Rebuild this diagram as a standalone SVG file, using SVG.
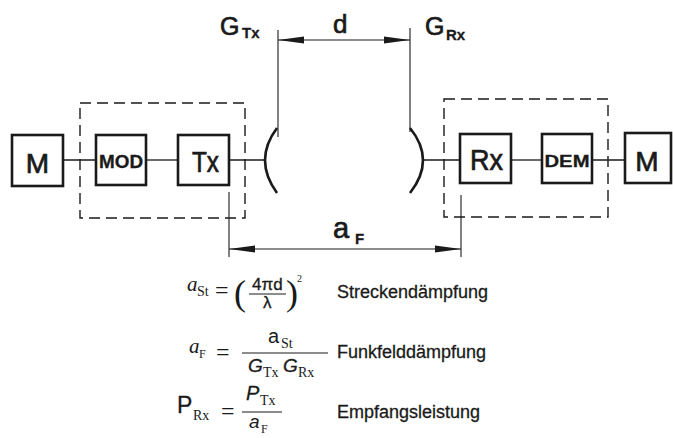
<svg xmlns="http://www.w3.org/2000/svg" width="673" height="438" viewBox="0 0 673 438">
<style>
.box{fill:none;stroke:#1a1a1a;stroke-width:2.6}
.dash{fill:none;stroke:#1a1a1a;stroke-width:1.4;stroke-dasharray:11 6}
.ln{fill:none;stroke:#1a1a1a;stroke-width:1.3}
.dish{fill:none;stroke:#1a1a1a;stroke-width:2.6}
.dim{fill:none;stroke:#1a1a1a;stroke-width:1.1}
.s{font-family:"Liberation Sans",Arial,sans-serif;fill:#1a1a1a}
.b{font-weight:bold}
.w{stroke:#1a1a1a;stroke-width:0.7}
.w2{stroke:#1a1a1a;stroke-width:0.3}
.m{font-family:"Liberation Serif","Times New Roman",serif;fill:#1a1a1a}
.i{font-style:italic}
</style>
<defs>
<marker id="ah" viewBox="0 0 26 8" refX="26" refY="4" markerWidth="26" markerHeight="8" markerUnits="userSpaceOnUse" orient="auto-start-reverse">
<path d="M0,0.6 L26,4 L0,7.4 Z" fill="#1a1a1a"/>
</marker>
</defs>
<rect width="673" height="438" fill="#ffffff"/>

<g id="connectors">
<line class="ln" x1="63" y1="160" x2="96" y2="160"/>
<line class="ln" x1="146" y1="160" x2="178" y2="160"/>
<line class="ln" x1="229" y1="160" x2="265" y2="160"/>
<line class="ln" x1="423" y1="160" x2="460" y2="160"/>
<line class="ln" x1="511" y1="160" x2="542" y2="160"/>
<line class="ln" x1="592" y1="160" x2="625" y2="160"/>
<line class="dim" x1="278" y1="30" x2="278" y2="137"/>
<line class="dim" x1="410" y1="28" x2="410" y2="132"/>
<line class="dim" x1="229" y1="192" x2="229" y2="257"/>
<line class="dim" x1="461" y1="195" x2="461" y2="257"/>
<line class="dim" x1="278" y1="40" x2="410" y2="40" marker-start="url(#ah)" marker-end="url(#ah)"/>
<line class="dim" x1="229" y1="249" x2="461" y2="249" marker-start="url(#ah)" marker-end="url(#ah)"/>
</g>

<g id="tx-unit"><rect class="dash" x="80" y="103" width="165" height="115"/></g>
<g id="rx-unit"><rect class="dash" x="444" y="99" width="164" height="118"/></g>

<g id="m-left"><rect class="box" x="12" y="135" width="51" height="51"/><text class="s w" x="37.5" y="173" font-size="28" text-anchor="middle">M</text></g>
<g id="mod"><rect class="box" x="96" y="135" width="50" height="50"/><text class="s b w2" x="121" y="168" font-size="18" text-anchor="middle" textLength="44" lengthAdjust="spacingAndGlyphs">MOD</text></g>
<g id="tx"><rect class="box" x="178" y="135" width="51" height="50"/><text class="s w" x="192" y="172" font-size="29" textLength="27" lengthAdjust="spacingAndGlyphs">Tx</text></g>
<g id="ant-tx"><path class="dish" d="M277,128 Q253,160 277,193"/></g>
<g id="ant-rx"><path class="dish" d="M410,128 Q436,160 410,193"/></g>
<g id="rx"><rect class="box" x="460" y="134" width="51" height="49"/><text class="s w" x="470" y="170" font-size="29" textLength="33" lengthAdjust="spacingAndGlyphs">Rx</text></g>
<g id="dem"><rect class="box" x="542" y="134" width="50" height="49"/><text class="s b w2" x="567" y="167" font-size="17" text-anchor="middle" textLength="45" lengthAdjust="spacingAndGlyphs">DEM</text></g>
<g id="m-right"><rect class="box" x="625" y="133" width="46" height="50"/><text class="s w" x="647" y="171" font-size="28" text-anchor="middle">M</text></g>

<g id="labels">
<text class="s w" x="220" y="35" font-size="25">G</text>
<text class="s b w2" x="242" y="38" font-size="15">Tx</text>
<text class="s w" x="333" y="33" font-size="26">d</text>
<text class="s w" x="425" y="35" font-size="25">G</text>
<text class="s b w2" x="446" y="40" font-size="15">Rx</text>
<text class="s w" x="333" y="238" font-size="29">a</text>
<text class="s b w2" x="355" y="244" font-size="15">F</text>
</g>

<g id="formula-1">
<text class="m i" x="187" y="291" font-size="21">a</text>
<text class="m" x="197" y="296" font-size="14">St</text>
<text class="m" x="215" y="298" font-size="24">=</text>
<text class="m" x="234" y="305" font-size="36">(</text>
<text class="s w2" x="252" y="290" font-size="17">4πd</text>
<line class="dim" x1="249" y1="294" x2="286" y2="294"/>
<text class="s w2" x="263" y="308" font-size="17">λ</text>
<text class="m" x="286" y="305" font-size="36">)</text>
<text class="m" x="297" y="282" font-size="10">2</text>
<text class="s w2" x="337" y="298" font-size="18">Streckendämpfung</text>
</g>

<g id="formula-2">
<text class="m i" x="189" y="353" font-size="21">a</text>
<text class="m" x="199" y="358" font-size="12">F</text>
<text class="m" x="216" y="360" font-size="24">=</text>
<line class="dim" x1="242" y1="353" x2="328" y2="353"/>
<text class="s" x="268" y="343" font-size="20">a</text>
<text class="m" x="281" y="348" font-size="14">St</text>
<text class="s i w2" x="248" y="372" font-size="19">G</text>
<text class="m" x="263" y="377" font-size="14">Tx</text>
<text class="s i w2" x="283" y="372" font-size="19">G</text>
<text class="m" x="298" y="377" font-size="14">Rx</text>
<text class="s w2" x="337" y="358" font-size="18">Funkfelddämpfung</text>
</g>

<g id="formula-3">
<text class="s w2" x="177" y="413" font-size="23">P</text>
<text class="m" x="193" y="420" font-size="14">Rx</text>
<text class="m" x="221" y="419" font-size="24">=</text>
<line class="dim" x1="242" y1="412" x2="282" y2="412"/>
<text class="s i w2" x="246" y="400" font-size="20">P</text>
<text class="m" x="260" y="405" font-size="14">Tx</text>
<text class="s i" x="249" y="428" font-size="19">a</text>
<text class="m" x="261" y="433" font-size="12">F</text>
<text class="s w2" x="337" y="418" font-size="18">Empfangsleistung</text>
</g>
</svg>
